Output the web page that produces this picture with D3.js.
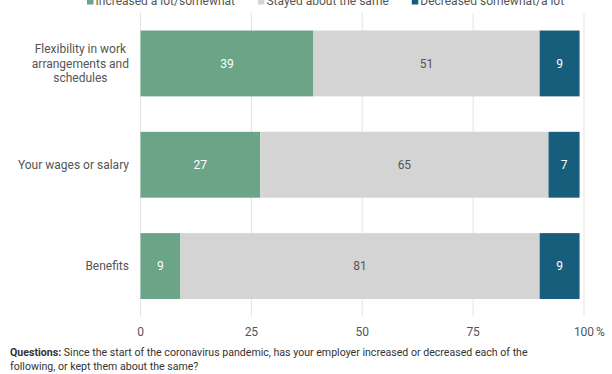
<!DOCTYPE html>
<html>
<head>
<meta charset="utf-8">
<script src="https://cdn.jsdelivr.net/npm/d3@7"></script>
<style>
  body { margin: 0; background: #fff; }
  svg { display: block; font-family: Roboto, sans-serif; }
</style>
</head>
<body>
<svg id="chart" width="612" height="374"></svg>
<script>
// data
const categories = [
  ["Flexibility in work", "arrangements and", "schedules"],
  ["Your wages or salary"],
  ["Benefits"]
];
const increased = [39, 27, 9];
const same = [51, 65, 81];
const decreased = [9, 7, 9];
const seriesNames = ["Increased a lot/somewhat", "Stayed about the same", "Decreased somewhat/a lot"];
const seriesColors = ["#6ca488", "#d4d4d4", "#175e7c"];
const labelColors = ["#ffffff", "#555555", "#ffffff"];
const ticks = [0, 25, 50, 75, 100];

const svg = d3.select("#chart");

const x = d3.scaleLinear().domain([0, 100]).range([140.5, 584]);
const y = d3.scaleBand()
  .domain(d3.range(categories.length))
  .range([13, 316.5])
  .paddingInner(0.35)
  .paddingOuter(0.173);

// gridlines
svg.append("g")
  .selectAll("line")
  .data(ticks)
  .enter()
  .append("line")
  .attr("x1", d => x(d))
  .attr("x2", d => x(d))
  .attr("y1", 13)
  .attr("y2", 316.5)
  .attr("stroke", "#e3e3e3")
  .attr("stroke-width", 1);

// tick labels
svg.append("g")
  .selectAll("text")
  .data(ticks)
  .enter()
  .append("text")
  .attr("x", d => x(d))
  .attr("y", 336)
  .attr("text-anchor", "middle")
  .attr("font-size", 12)
  .attr("fill", "#555")
  .text(d => d);
svg.append("text")
  .attr("x", x(100) + 12)
  .attr("y", 336)
  .attr("font-size", 12)
  .attr("fill", "#555")
  .text("%");

// stacked bars
const rows = categories.map((c, i) => [increased[i], same[i], decreased[i]]);

rows.forEach((vals, i) => {
  let start = 0;
  const segs = vals.map((v, k) => {
    const s = {i: i, k: k, v: v, x0: start, x1: start + v};
    start += v;
    return s;
  });
  const g = svg.append("g");
  g.selectAll("rect")
    .data(segs)
    .enter()
    .append("rect")
    .attr("x", d => x(d.x0))
    .attr("width", d => x(d.x1) - x(d.x0))
    .attr("y", y(i))
    .attr("height", y.bandwidth())
    .attr("fill", d => seriesColors[d.k]);
  g.selectAll("text")
    .data(segs)
    .enter()
    .append("text")
    .attr("x", d => (x(d.x0) + x(d.x1)) / 2)
    .attr("y", y(i) + y.bandwidth() / 2)
    .attr("dy", "0.35em")
    .attr("text-anchor", "middle")
    .attr("font-size", 12)
    .attr("fill", d => labelColors[d.k])
    .text(d => d.v);
});

// category labels
categories.forEach((lines, i) => {
  const t = svg.append("text")
    .attr("font-size", 12)
    .attr("fill", "#555")
    .attr("text-anchor", "middle");
  const cy = y(i) + y.bandwidth() / 2;
  lines.forEach((ln, j) => {
    t.append("tspan")
      .attr("y", cy + (j - (lines.length - 1) / 2) * 14.6)
      .attr("dy", "0.35em")
      .text(ln);
  });
  let w = 0;
  t.selectAll("tspan").each(function() { w = Math.max(w, this.getComputedTextLength()); });
  t.selectAll("tspan").attr("x", 129 - w / 2);
});

// legend
const legend = svg.append("g");
let lx = 87;
seriesNames.forEach((name, k) => {
  legend.append("rect")
    .attr("x", lx)
    .attr("y", -2)
    .attr("width", 6.5)
    .attr("height", 6.5)
    .attr("fill", seriesColors[k]);
  const t = legend.append("text")
    .attr("x", lx + 8.5)
    .attr("y", 4.5)
    .attr("font-size", 12)
    .attr("fill", "#555")
    .text(name);
  lx += 8.5 + t.node().getComputedTextLength() + 23;
});

// notes
const note = svg.append("text")
  .attr("x", 10)
  .attr("font-size", 10.6)
  .attr("fill", "#333");
note.append("tspan")
  .attr("x", 10)
  .attr("y", 356)
  .attr("font-weight", "bold")
  .text("Questions:");
note.append("tspan")
  .text(" Since the start of the coronavirus pandemic, has your employer increased or decreased each of the");
note.append("tspan")
  .attr("x", 10)
  .attr("y", 370)
  .text("following, or kept them about the same?");
</script>
</body>
</html>
